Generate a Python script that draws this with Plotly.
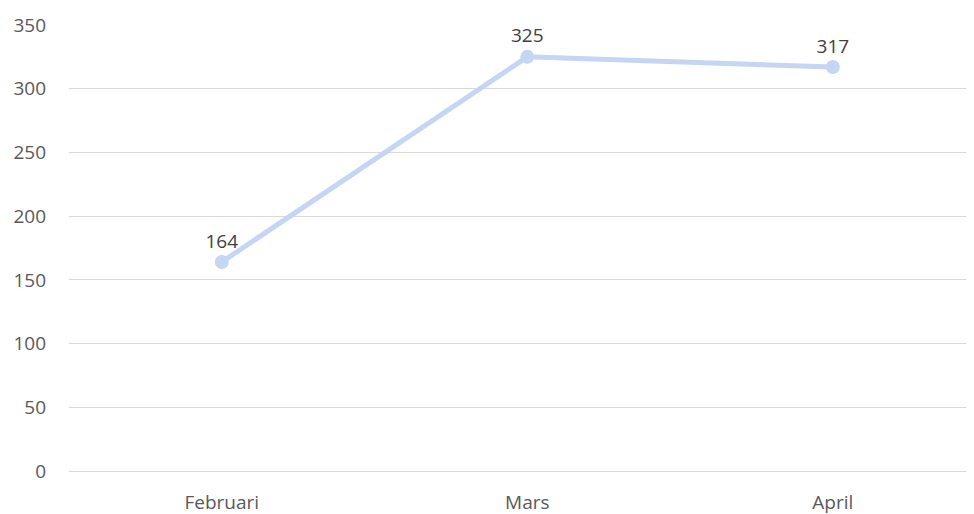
import plotly.graph_objects as go

categories = ["Februari", "Mars", "April"]
values = [164, 325, 317]
y_ticks = [0, 50, 100, 150, 200, 250, 300, 350]

FONT = "Open Sans, Liberation Sans, sans-serif"

fig = go.Figure()
fig.add_trace(go.Scatter(
    x=categories, y=values, mode="lines+markers+text",
    line=dict(color="#c5d5f4", width=5),
    marker=dict(color="#c5d5f4", size=14),
    text=[str(v) for v in values], textposition="top center",
    textfont=dict(family=FONT, size=19, color="#404040"),
    cliponaxis=False, hoverinfo="skip",
))
# page body has an 8px default margin; figure sized to fill the remaining window
fig.update_layout(
    width=966, height=506,
    margin=dict(l=61, r=0, t=17, b=43),
    paper_bgcolor="white", plot_bgcolor="white",
    showlegend=False,
    font=dict(family=FONT, size=19, color="#595959"),
)
fig.update_xaxes(range=[-0.5, 2.462], automargin=False, showgrid=False, showline=False,
                 zeroline=False, ticks="", ticklabelstandoff=18,
                 tickfont=dict(family=FONT, size=19, color="#595959"))
fig.update_yaxes(range=[0, 350], tickvals=y_ticks, automargin=False, showgrid=True,
                 gridcolor="#d9d9d9", gridwidth=1.3, zeroline=True, zerolinecolor="#d9d9d9",
                 zerolinewidth=1.3, showline=False, ticks="", ticklabelstandoff=22,
                 tickfont=dict(family=FONT, size=19, color="#595959"))
fig.write_html("out.html")
